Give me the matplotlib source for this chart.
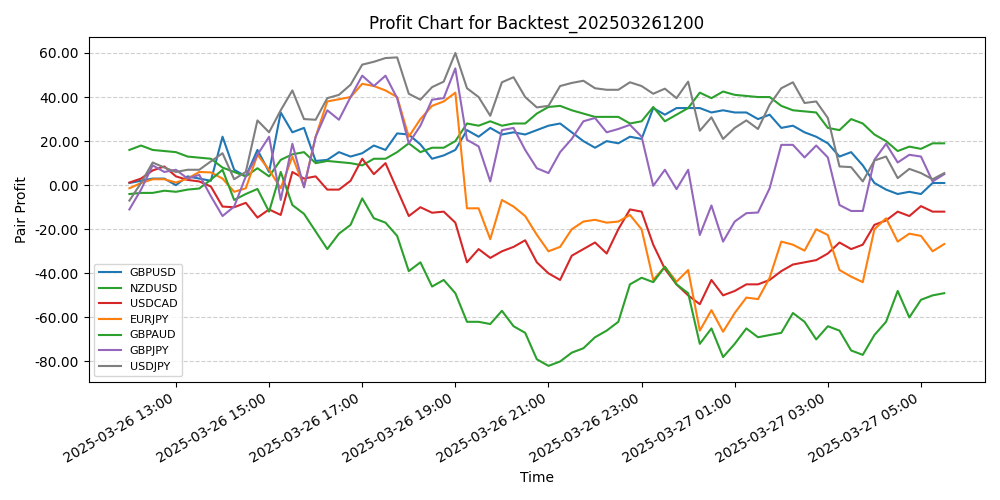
import matplotlib
matplotlib.use("Agg")
import matplotlib.pyplot as plt
import matplotlib.dates as mdates
from matplotlib.ticker import FormatStrFormatter
import pandas as pd

# 15-minute samples from 2025-03-26 12:00 to 2025-03-27 05:30
timestamps = pd.date_range("2025-03-26 12:00", periods=71, freq="15min")

gbpusd = [1, 2, 3, 3, 0, 4, 3, 2, 22, 7, 4, 16, 6, 33, 24, 26,
          11, 11.5, 15, 13, 14.5, 18, 16, 23.5, 23, 18.5, 12, 13.5, 16, 25, 22, 26,
          23, 24, 23, 25, 27, 28, 24, 20, 17, 20, 19, 22, 21, 35, 32, 35,
          35, 35, 33, 34, 33, 33, 30, 32, 26, 27, 24, 22, 19, 13, 15, 9,
          1, -2, -4, -3, -4, 1, 1]
nzdusd = [16, 18, 16, 15.5, 15, 13, 12.5, 12, 8, 6, 4, 7.7, 4, 11.5, 14, 15,
          10, 11, 10.5, 10, 9, 12, 12, 15, 19, 15, 17, 17, 20, 28, 27, 29,
          27, 28, 28, 32.5, 35.5, 36, 34, 32.5, 31, 31, 31, 28, 29, 35.5, 29, 32,
          35, 42, 39.5, 42.5, 41, 40.5, 40, 40, 36, 34, 33.5, 33, 26, 25,
          30, 28, 23, 20, 15.5, 17.5, 16.5, 19, 19]
usdcad = [1.2, 3, 6.7, 8.5, 4, 2.4, 1.7, -0.6, -9.7, -10, -8, -14.7, -11, -13.5, 6, 3,
          4, -2, -2, 2, 12, 5, 10, -2, -14, -10, -12.5, -12, -17, -35, -29, -33,
          -30, -28, -25, -35, -40, -43, -32, -29, -26, -31, -20, -11, -12, -27, -38, -45,
          -50, -54, -43, -50, -48, -45, -45, -43, -39, -36, -35, -34, -31, -26, -29, -27,
          -18, -16, -12, -14, -9.5, -12, -12]
eurjpy = [-1.4, 1, 2.7, 2.7, 1.2, 3, 6, 5.8, 3, -3, -1.4, 13.8, 7, -1.4, 13, -0.6,
          22, 38, 39, 40, 46, 45, 43, 40, 22, 30, 36, 38, 42, -10.5, -10.5, -24.5,
          -6.7, -9.7, -14, -22.5, -30, -28, -20, -16.5, -15.7, -17, -16.5, -13.5, -20, -43, -37, -43.8,
          -38.5, -66, -56.7, -66.5, -58, -51, -51.7, -42, -25.6, -27, -29.7, -20, -22.6, -38.5,
          -41.5, -44, -20, -15, -25.6, -22, -23, -30, -26.7]
gbpaud = [-4, -3.5, -3.5, -2.5, -3, -2, -1.5, 2.5, 7, -6.7, -4, -1.7, -12, 6, -9, -13,
          -21, -29, -22, -18, -6, -15, -17, -23, -39, -35, -46, -43, -49, -62, -62, -63,
          -57, -64, -67, -79, -82, -80, -76, -74, -69, -66, -62, -45, -42, -44, -37, -45,
          -49, -72, -65, -78, -72, -65, -69, -68, -67, -58, -62, -70, -64, -66, -75, -77,
          -68, -62, -48, -60, -52, -50, -49]
gbpjpy = [-11, -2, 9, 6, 7, 3, 4.7, -5, -14, -9.7, 4, 13.8, 22, -6.7, 18.8, -1,
          22, 34, 29.7, 40, 49.7, 45, 49.7, 39.5, 19, 27, 38.8, 39.5, 53, 20.6, 17.6, 1.7,
          25, 26, 16, 7.7, 5.5, 15, 21, 29, 30.5, 24, 25.5, 27.4, 22, -0.3, 7, -1.8,
          7, -22.6, -9.2, -25.6, -16.5, -12.7, -12.4, -1.4, 18.3, 18.3, 12.6, 18, 12.6, -9,
          -11.7, -11.7, 11.5, 18.8, 10.3, 13.8, 13, 1.7, 5]
usdjpy = [-7, 1, 10.3, 8, 6, 7, 7, 10.8, 14.5, 2.7, 6, 29.4, 24, 34, 43, 30,
          29.7, 39.5, 41, 45.6, 54.7, 56, 57.7, 58, 41.5, 38.8, 44.5, 47, 60, 44, 40, 31.5,
          46.7, 49, 40, 35.3, 36, 45, 46.4, 47.4, 44, 43.3, 43.3, 46.7, 45, 41.5, 43.8, 39.5,
          47, 24.7, 30.8, 21, 26, 29.4, 25.5, 36.5, 44, 46.7, 37.3, 38, 30.5, 8.5,
          8.2, 1.7, 11.2, 13, 3.2, 7.4, 5.5, 2.7, 5.5]

pairs = ["GBPUSD", "NZDUSD", "USDCAD", "EURJPY", "GBPAUD", "GBPJPY", "USDJPY"]
series = [gbpusd, nzdusd, usdcad, eurjpy, gbpaud, gbpjpy, usdjpy]
colors = ["tab:blue", "tab:green", "tab:red", "tab:orange", "tab:green", "tab:purple", "tab:gray"]

fig, ax = plt.subplots(figsize=(10, 5), dpi=100)
for name, vals, c in zip(pairs, series, colors):
    ax.plot(timestamps, vals, label=name, color=c, linewidth=1.5)

ax.set_title("Profit Chart for Backtest_202503261200")
ax.set_xlabel("Time")
ax.set_ylabel("Pair Profit")
ax.yaxis.set_major_formatter(FormatStrFormatter("%.2f"))
ax.xaxis.set_major_locator(mdates.HourLocator(interval=2))
ax.xaxis.set_major_formatter(mdates.DateFormatter("%Y-%m-%d %H:%M"))
ax.grid(axis="y", linestyle="--", alpha=0.6)
ax.legend(loc="lower left", fontsize=8)
fig.autofmt_xdate()
fig.tight_layout()
fig.savefig("out.png")
